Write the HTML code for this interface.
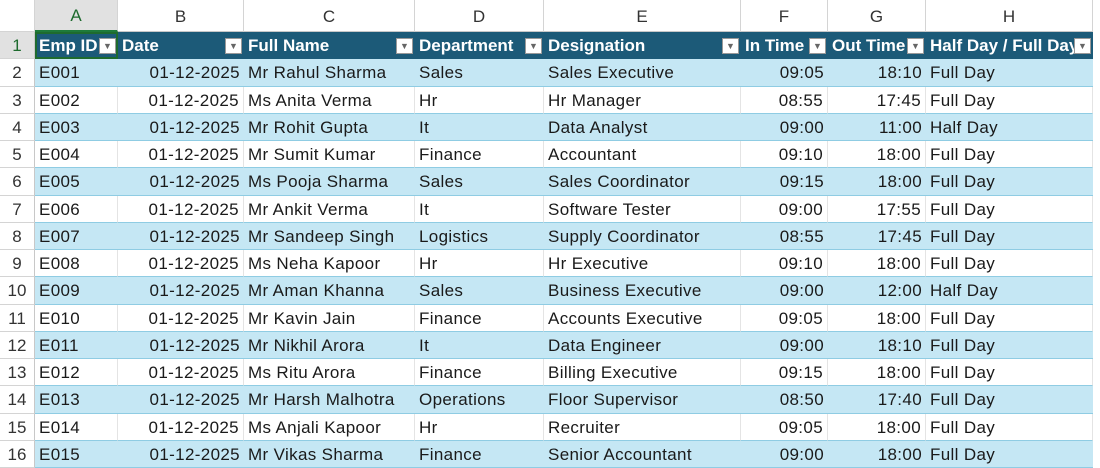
<!DOCTYPE html>
<html><head><meta charset="utf-8"><style>
*{margin:0;padding:0;box-sizing:border-box}
body{width:1100px;height:468px;overflow:hidden;background:#fff;font-family:"Liberation Sans",sans-serif;font-size:17px;letter-spacing:0.35px;color:#1a1a1a}
.g{display:grid;grid-template-columns:35px 83px 126px 171px 129px 197px 87px 98px 167px 7px;grid-template-rows:32px repeat(16,27.25px)}
.g>div{white-space:nowrap;overflow:hidden;display:flex;align-items:center;padding:2px 4px 0 4px;position:relative;border-right:1px solid #d4d4d4;border-bottom:1px solid #d4d4d4}
.ch{justify-content:center;color:#333;font-size:17px;background:#fff;border-bottom:1px solid #c8c8c8!important;letter-spacing:0}
.ch.sel{background:#e1e1e1;color:#1e6b2e;border-bottom:2px solid #1e7a3a!important}
.rh{justify-content:center;background:#fff;color:#333;font-size:17px;border-right:1px solid #c8c8c8!important;letter-spacing:0}
.rh.sel{color:#1e6b2e;background:#e1e1e1}
.corner{background:#fff}
.h{background:#1c5a78;color:#fff;font-weight:bold;letter-spacing:0;border-right:none!important;border-bottom:1px solid #1c5a78!important;padding-right:22px!important}
.h span.f{position:absolute;right:2px;top:6px;width:17px;height:16px;background:#fff;border:1px solid #999;color:#666;font-size:9px;display:flex;align-items:center;justify-content:center}
.a{background:#c5e7f4;border-right:none!important;border-bottom:1px solid #8fcce3!important}
.b{background:#fff;border-right:1px solid #e4e4e4!important;border-bottom:1px solid #8fcce3!important}
.r{justify-content:flex-end}
.e{background:#fff;border-right:none!important;border-bottom:none!important}
</style></head><body><div class="g">
<div class="corner"></div><div class="ch sel">A</div><div class="ch">B</div><div class="ch">C</div><div class="ch">D</div><div class="ch">E</div><div class="ch">F</div><div class="ch">G</div><div class="ch">H</div><div class="e"></div>
<div class="rh sel">1</div><div class="h" style="outline:2px solid #1e6b2e;outline-offset:-2px">Emp ID<span class="f">▼</span></div><div class="h">Date<span class="f">▼</span></div><div class="h">Full Name<span class="f">▼</span></div><div class="h">Department<span class="f">▼</span></div><div class="h">Designation<span class="f">▼</span></div><div class="h">In Time<span class="f">▼</span></div><div class="h">Out Time<span class="f">▼</span></div><div class="h">Half Day / Full Day<span class="f">▼</span></div><div class="e"></div>
<div class="rh">2</div><div class="a">E001</div><div class="a r">01-12-2025</div><div class="a">Mr Rahul Sharma</div><div class="a">Sales</div><div class="a">Sales Executive</div><div class="a r">09:05</div><div class="a r">18:10</div><div class="a">Full Day</div><div class="e"></div>
<div class="rh">3</div><div class="b">E002</div><div class="b r">01-12-2025</div><div class="b">Ms Anita Verma</div><div class="b">Hr</div><div class="b">Hr Manager</div><div class="b r">08:55</div><div class="b r">17:45</div><div class="b">Full Day</div><div class="e"></div>
<div class="rh">4</div><div class="a">E003</div><div class="a r">01-12-2025</div><div class="a">Mr Rohit Gupta</div><div class="a">It</div><div class="a">Data Analyst</div><div class="a r">09:00</div><div class="a r">11:00</div><div class="a">Half Day</div><div class="e"></div>
<div class="rh">5</div><div class="b">E004</div><div class="b r">01-12-2025</div><div class="b">Mr Sumit Kumar</div><div class="b">Finance</div><div class="b">Accountant</div><div class="b r">09:10</div><div class="b r">18:00</div><div class="b">Full Day</div><div class="e"></div>
<div class="rh">6</div><div class="a">E005</div><div class="a r">01-12-2025</div><div class="a">Ms Pooja Sharma</div><div class="a">Sales</div><div class="a">Sales Coordinator</div><div class="a r">09:15</div><div class="a r">18:00</div><div class="a">Full Day</div><div class="e"></div>
<div class="rh">7</div><div class="b">E006</div><div class="b r">01-12-2025</div><div class="b">Mr Ankit Verma</div><div class="b">It</div><div class="b">Software Tester</div><div class="b r">09:00</div><div class="b r">17:55</div><div class="b">Full Day</div><div class="e"></div>
<div class="rh">8</div><div class="a">E007</div><div class="a r">01-12-2025</div><div class="a">Mr Sandeep Singh</div><div class="a">Logistics</div><div class="a">Supply Coordinator</div><div class="a r">08:55</div><div class="a r">17:45</div><div class="a">Full Day</div><div class="e"></div>
<div class="rh">9</div><div class="b">E008</div><div class="b r">01-12-2025</div><div class="b">Ms Neha Kapoor</div><div class="b">Hr</div><div class="b">Hr Executive</div><div class="b r">09:10</div><div class="b r">18:00</div><div class="b">Full Day</div><div class="e"></div>
<div class="rh">10</div><div class="a">E009</div><div class="a r">01-12-2025</div><div class="a">Mr Aman Khanna</div><div class="a">Sales</div><div class="a">Business Executive</div><div class="a r">09:00</div><div class="a r">12:00</div><div class="a">Half Day</div><div class="e"></div>
<div class="rh">11</div><div class="b">E010</div><div class="b r">01-12-2025</div><div class="b">Mr Kavin Jain</div><div class="b">Finance</div><div class="b">Accounts Executive</div><div class="b r">09:05</div><div class="b r">18:00</div><div class="b">Full Day</div><div class="e"></div>
<div class="rh">12</div><div class="a">E011</div><div class="a r">01-12-2025</div><div class="a">Mr Nikhil Arora</div><div class="a">It</div><div class="a">Data Engineer</div><div class="a r">09:00</div><div class="a r">18:10</div><div class="a">Full Day</div><div class="e"></div>
<div class="rh">13</div><div class="b">E012</div><div class="b r">01-12-2025</div><div class="b">Ms Ritu Arora</div><div class="b">Finance</div><div class="b">Billing Executive</div><div class="b r">09:15</div><div class="b r">18:00</div><div class="b">Full Day</div><div class="e"></div>
<div class="rh">14</div><div class="a">E013</div><div class="a r">01-12-2025</div><div class="a">Mr Harsh Malhotra</div><div class="a">Operations</div><div class="a">Floor Supervisor</div><div class="a r">08:50</div><div class="a r">17:40</div><div class="a">Full Day</div><div class="e"></div>
<div class="rh">15</div><div class="b">E014</div><div class="b r">01-12-2025</div><div class="b">Ms Anjali Kapoor</div><div class="b">Hr</div><div class="b">Recruiter</div><div class="b r">09:05</div><div class="b r">18:00</div><div class="b">Full Day</div><div class="e"></div>
<div class="rh">16</div><div class="a">E015</div><div class="a r">01-12-2025</div><div class="a">Mr Vikas Sharma</div><div class="a">Finance</div><div class="a">Senior Accountant</div><div class="a r">09:00</div><div class="a r">18:00</div><div class="a">Full Day</div><div class="e"></div>
</div></body></html>
